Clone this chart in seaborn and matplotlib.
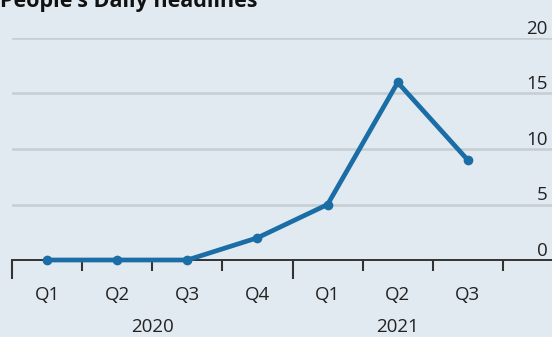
import matplotlib
matplotlib.use("Agg")
import matplotlib.pyplot as plt
import seaborn as sns
import pandas as pd

# Data
quarters = ["Q1", "Q2", "Q3", "Q4", "Q1", "Q2", "Q3"]
years = ["2020", "2020", "2020", "2020", "2021", "2021", "2021"]
headlines = [0, 0, 0, 2, 5, 16, 9]
year_labels = ["2020", "2021"]

bg = "#e2eaf1"
blue = "#1b6ea5"
grid_col = "#c6ced4"
text_col = "#222222"

sns.set_style("white", {"axes.facecolor": bg, "figure.facecolor": bg})
plt.rcParams['font.family'] = ['Open Sans', 'DejaVu Sans']

df = pd.DataFrame({"idx": range(len(headlines)), "quarter": quarters,
                   "year": years, "count": headlines})

fig = plt.figure(figsize=(5.52, 3.37), dpi=100)
ax = fig.add_axes([12 / 552, 1 - 260 / 337, 1 - 12 / 552, (260 - 38) / 337])

# Gridlines
for v in [5, 10, 15, 20]:
    ax.axhline(v, color=grid_col, lw=1.8, zorder=0)

sns.lineplot(data=df, x="idx", y="count", color=blue, lw=3.4, marker="o",
             markersize=7, markeredgewidth=0, ax=ax, clip_on=False, zorder=3)

ax.set_xlim(-0.5, 7.2)
ax.set_ylim(0, 20)
ax.set_xlabel("")
ax.set_ylabel("")

for s in ["top", "left", "right"]:
    ax.spines[s].set_visible(False)
ax.spines["bottom"].set_color("#333333")
ax.spines["bottom"].set_linewidth(1.4)
ax.spines["bottom"].set_zorder(2)

# Y labels on the right, sitting above gridlines
ax.set_yticks([0, 5, 10, 15, 20])
ax.tick_params(axis="y", left=False, labelleft=False, right=False,
               labelright=True, length=0, pad=-3, labelsize=13.5,
               labelcolor=text_col)
for lab in ax.get_yticklabels():
    lab.set_horizontalalignment("right")
    lab.set_verticalalignment("bottom")

# Boundary ticks: long at year starts, short at quarter boundaries
ax.set_xticks([-0.5, 3.5])
ax.set_xticks([0.5, 1.5, 2.5, 4.5, 5.5, 6.5], minor=True)
ax.tick_params(axis="x", which="major", bottom=True, length=14, width=1.5,
               color="#333333", labelbottom=False)
ax.tick_params(axis="x", which="minor", bottom=True, length=8, width=1.5,
               color="#333333", labelbottom=False)

# Quarter labels
qax = ax.secondary_xaxis("bottom")
qax.set_xticks(range(len(quarters)))
qax.set_xticklabels(quarters)
qax.tick_params(length=0, pad=19, labelsize=13.5, labelcolor=text_col)
qax.spines["bottom"].set_visible(False)

# Year labels
yax = ax.secondary_xaxis("bottom")
yax.set_xticks([1.5, 5.0])
yax.set_xticklabels(year_labels)
yax.tick_params(length=0, pad=42, labelsize=13.5, labelcolor=text_col)
yax.spines["bottom"].set_visible(False)

fig.text(0.0, 1 - 7 / 337, "People's Daily headlines", fontsize=15.5,
         fontweight="bold", color="#111111", va="baseline", ha="left")

fig.savefig("out.png", dpi=100, facecolor=bg)
